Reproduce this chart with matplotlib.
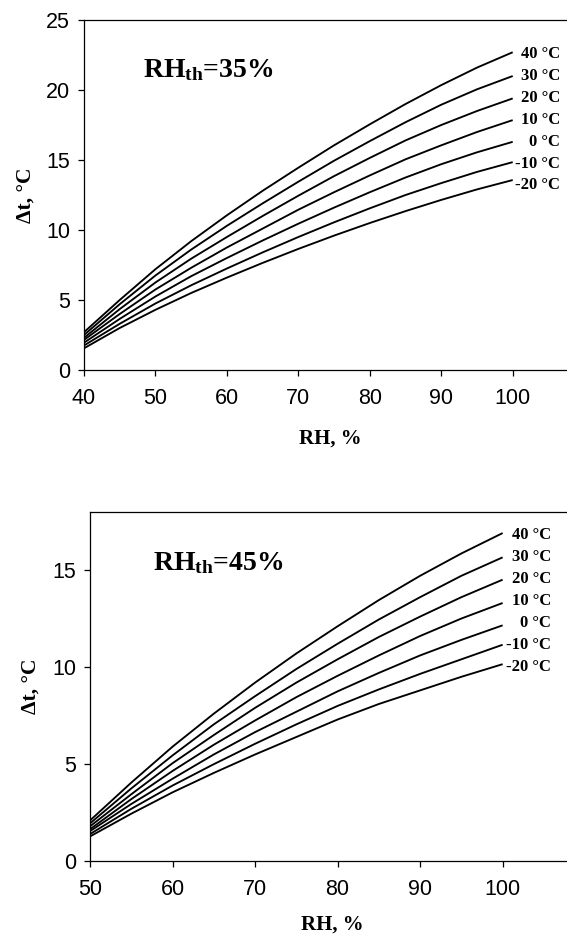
import matplotlib
matplotlib.use("Agg")
import matplotlib.pyplot as plt

plt.rcParams['font.family'] = ['Liberation Sans', 'DejaVu Sans']
plt.rcParams['mathtext.fontset'] = 'custom'
plt.rcParams['mathtext.rm'] = 'Liberation Serif:bold'
plt.rcParams['mathtext.it'] = 'Liberation Serif:bold'
plt.rcParams['mathtext.bf'] = 'Liberation Serif:bold'

# ----------- DATA -----------
temps = ["40 °C", "30 °C", "20 °C", "10 °C", "0 °C", "-10 °C", "-20 °C"]

# top panel, RH_th = 35 %
rh_top = [40, 45, 50, 55, 60, 65, 70, 75, 80, 85, 90, 95, 100]
dt_top_40 = [2.70, 5.00, 7.20, 9.20, 11.05, 12.80, 14.45, 16.05, 17.55, 19.00, 20.35, 21.60, 22.70]
dt_top_30 = [2.50, 4.70, 6.75, 8.60, 10.30, 11.90, 13.45, 14.95, 16.35, 17.70, 18.95, 20.05, 21.00]
dt_top_20 = [2.30, 4.35, 6.25, 7.95, 9.50, 11.00, 12.45, 13.85, 15.15, 16.40, 17.50, 18.50, 19.40]
dt_top_10 = [2.15, 4.00, 5.75, 7.30, 8.75, 10.10, 11.45, 12.70, 13.90, 15.05, 16.05, 17.00, 17.85]
dt_top_0 = [1.95, 3.65, 5.25, 6.70, 8.00, 9.25, 10.45, 11.60, 12.70, 13.75, 14.70, 15.55, 16.30]
dt_top_m10 = [1.75, 3.30, 4.75, 6.05, 7.25, 8.40, 9.50, 10.55, 11.55, 12.50, 13.35, 14.15, 14.85]
dt_top_m20 = [1.55, 3.00, 4.30, 5.50, 6.60, 7.65, 8.65, 9.60, 10.50, 11.35, 12.15, 12.90, 13.57]

# bottom panel, RH_th = 45 %
rh_bot = [50, 55, 60, 65, 70, 75, 80, 85, 90, 95, 100]
dt_bot_40 = [2.10, 4.05, 5.90, 7.60, 9.20, 10.70, 12.10, 13.45, 14.70, 15.85, 16.90]
dt_bot_30 = [1.95, 3.75, 5.45, 7.05, 8.50, 9.90, 11.20, 12.45, 13.60, 14.70, 15.65]
dt_bot_20 = [1.80, 3.45, 5.05, 6.50, 7.90, 9.20, 10.40, 11.55, 12.60, 13.60, 14.50]
dt_bot_10 = [1.65, 3.20, 4.65, 6.00, 7.25, 8.45, 9.55, 10.60, 11.60, 12.50, 13.30]
dt_bot_0 = [1.55, 2.95, 4.25, 5.50, 6.65, 7.70, 8.75, 9.70, 10.60, 11.40, 12.15]
dt_bot_m10 = [1.40, 2.70, 3.90, 5.00, 6.05, 7.05, 8.00, 8.85, 9.65, 10.40, 11.15]
dt_bot_m20 = [1.28, 2.45, 3.55, 4.55, 5.50, 6.40, 7.30, 8.10, 8.80, 9.50, 10.15]

top_ticks_x = [40, 50, 60, 70, 80, 90, 100]
top_ticks_y = [0, 5, 10, 15, 20, 25]
bot_ticks_x = [50, 60, 70, 80, 90, 100]
bot_ticks_y = [0, 5, 10, 15]

SERIF = ['Liberation Serif', 'DejaVu Serif']


def style_axes(ax, xlim, ylim, xt, yt):
    ax.set_xlim(*xlim)
    ax.set_ylim(*ylim)
    ax.set_xticks(xt)
    ax.set_yticks(yt)
    ax.spines['right'].set_visible(False)
    for s in ax.spines.values():
        s.set_linewidth(0.9)
    ax.tick_params(direction='out', length=4, width=0.9, labelsize=15.5)
    ax.tick_params(axis='x', pad=9)
    ax.tick_params(axis='y', pad=6)


def draw_panel(ax, rh, curves, label_x, label_step, title, title_xy):
    for c in curves:
        ax.plot(rh, c, color='black', lw=1.35, solid_capstyle='butt')
    top_end = curves[0][-1]
    for i, t in enumerate(temps):
        ax.text(label_x, top_end - 0.1 - i * label_step, t, ha='right', va='center',
                fontsize=12, fontweight='bold', family=SERIF)
    ax.text(title_xy[0], title_xy[1], title, fontsize=20, fontweight='bold',
            family=SERIF, va='baseline')
    ax.set_xlabel("RH, %", fontsize=15, fontweight='bold', family=SERIF)
    ax.set_ylabel("Δt, °C", fontsize=15.5, fontweight='bold', family=SERIF)


fig = plt.figure(figsize=(5.67, 9.36), dpi=100)

# ----------- TOP PANEL -----------
ax1 = fig.add_axes([0.1481, 0.6047, 1 - 0.1481, 0.9786 - 0.6047])
style_axes(ax1, (40, 107.6), (0, 25), top_ticks_x, top_ticks_y)
draw_panel(ax1, rh_top,
           [dt_top_40, dt_top_30, dt_top_20, dt_top_10, dt_top_0, dt_top_m10, dt_top_m20],
           106.6, 1.57, r"RH$_{\rm th}$=35%", (48.3, 20.9))
ax1.xaxis.set_label_coords(0.509, -0.166)
ax1.yaxis.set_label_coords(-0.101, 0.5)

# ----------- BOTTOM PANEL -----------
ax2 = fig.add_axes([0.1587, 0.0798, 1 - 0.1587, 0.4533 - 0.0798])
style_axes(ax2, (50, 107.8), (0, 18), bot_ticks_x, bot_ticks_y)
draw_panel(ax2, rh_bot,
           [dt_bot_40, dt_bot_30, dt_bot_20, dt_bot_10, dt_bot_0, dt_bot_m10, dt_bot_m20],
           105.9, 1.13, r"RH$_{\rm th}$=45%", (57.6, 15.0))
ax2.xaxis.set_label_coords(0.509, -0.152)
ax2.yaxis.set_label_coords(-0.104, 0.5)

fig.savefig("out.png", dpi=100)
